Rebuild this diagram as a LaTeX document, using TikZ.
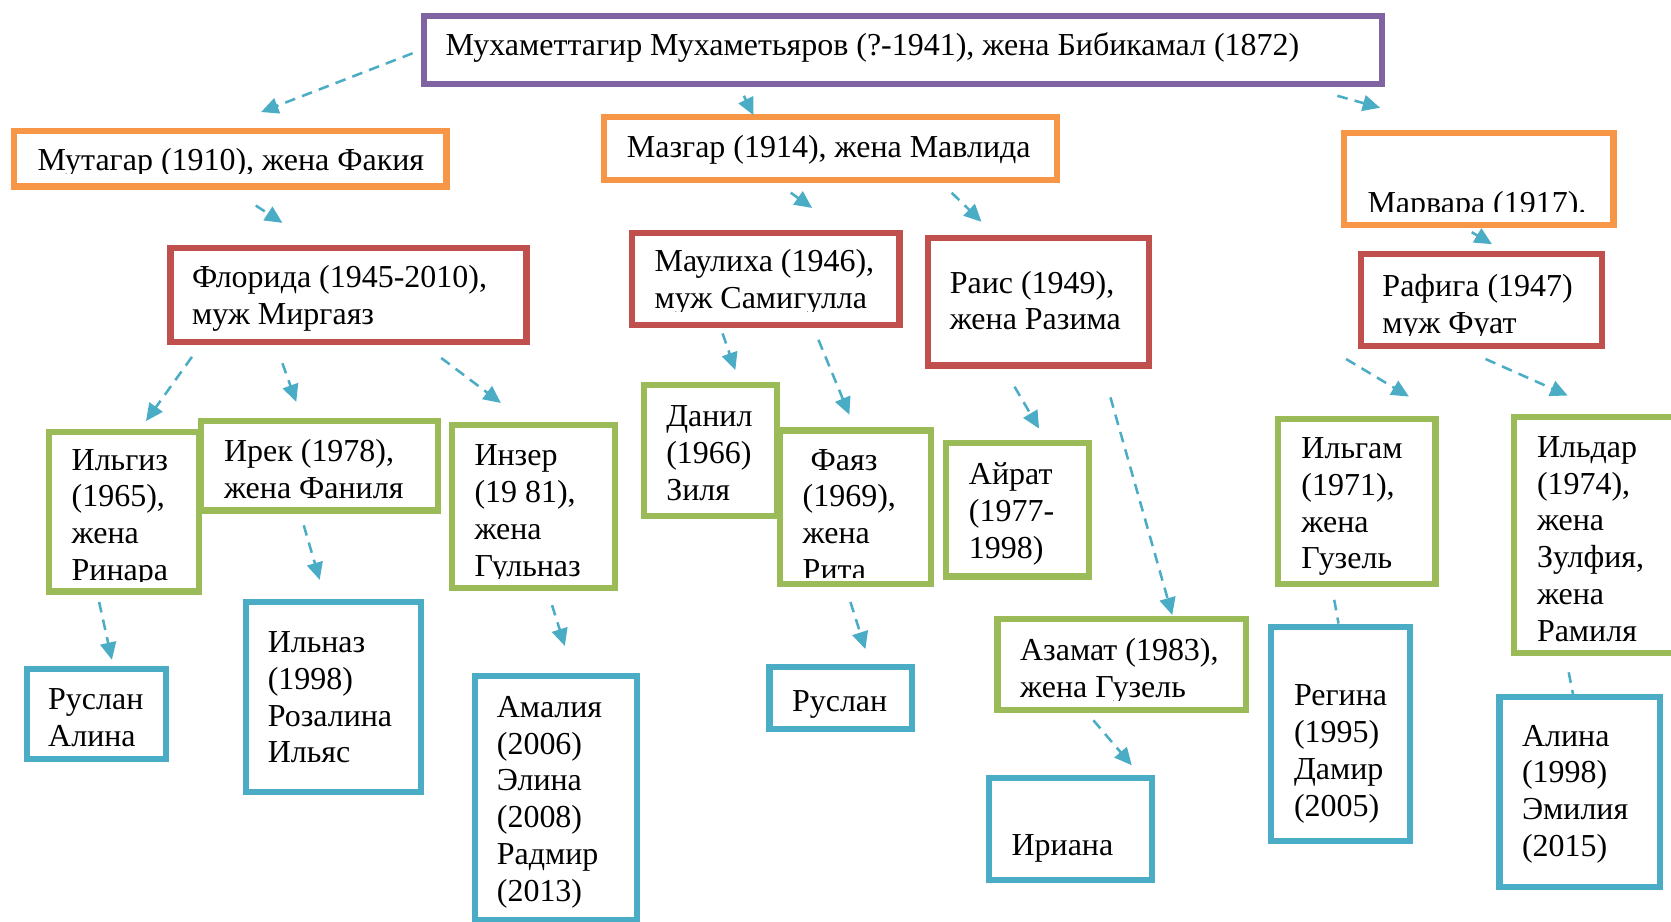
\documentclass[tikz,border=0pt]{standalone}
\usepackage{fontspec}
\setmainfont{Liberation Serif}
\usepackage{tikz}
\usetikzlibrary{arrows.meta,calc}

\definecolor{rootline}{RGB}{128,100,162}
\definecolor{sonline}{RGB}{247,150,70}
\definecolor{grandline}{RGB}{192,80,77}
\definecolor{greatline}{RGB}{155,187,89}
\definecolor{youngline}{RGB}{75,172,198}

\begin{document}
\begin{tikzpicture}[x=0.8pt,y=0.8pt,yscale=-1,xscale=1,
  box/.style={draw, line width=4.6pt, fill=white, inner sep=0pt},
  dims/.style 2 args={minimum width=#1*0.8pt, minimum height=#2*0.8pt},
  txt/.style={anchor=base west, inner sep=0pt, align=left, font=\fontsize{24}{27.7}\selectfont},
  link/.style={draw=youngline, line width=1.9pt, dash pattern=on 8pt off 5.5pt},
  arr/.style={link, -{Triangle[length=13pt,width=12pt]}}]
\useasboundingbox (0,0) rectangle (1568,865);
\clip (0,0) rectangle (1568,865);

%Shape: Rectangle
\node[box, draw=rootline, dims={899}{64}] (root) at (847.5,47) {};
%Shape: Rectangle
\node[box, draw=sonline, dims={406}{52}] (mutagar) at (216,149) {};
\node[box, draw=sonline, dims={425}{59}] (mazgar) at (779.5,139.5) {};
\node[box, draw=sonline, dims={253}{86}] (marvara) at (1387.5,168) {};
%Shape: Rectangle
\node[box, draw=grandline, dims={334}{88}] (florida) at (327,277) {};
\node[box, draw=grandline, dims={251}{86}] (maulikha) at (718.5,262) {};
\node[box, draw=grandline, dims={207}{120}] (rais) at (974.5,283) {};
\node[box, draw=grandline, dims={226}{86.5}] (rafiga) at (1390,281.75) {};
%Shape: Rectangle
\node[box, draw=greatline, dims={141}{150}] (ilgiz) at (116.5,480) {};
\node[box, draw=greatline, dims={222}{84}] (irek) at (300,437) {};
\node[box, draw=greatline, dims={153}{153}] (inzer) at (500.5,475.5) {};
\node[box, draw=greatline, dims={125}{123}] (danil) at (666.5,422.5) {};
\node[box, draw=greatline, dims={142}{144}] (fayaz) at (803,476) {};
\node[box, draw=greatline, dims={134}{125}] (airat) at (955,478.5) {};
\node[box, draw=greatline, dims={233}{85}] (azamat) at (1052.5,623.5) {};
\node[box, draw=greatline, dims={148}{155}] (ilgam) at (1273,470.5) {};
\node[box, draw=greatline, dims={159}{222}] (ildar) at (1500.5,502) {};
%Shape: Rectangle
\node[box, draw=youngline, dims={131}{84}] (ruslan) at (90.5,670) {};
\node[box, draw=youngline, dims={164}{178}] (ilnaz) at (313,654) {};
\node[box, draw=youngline, dims={152}{229}] (amalia) at (522,748.5) {};
\node[box, draw=youngline, dims={134}{58}] (ruslanb) at (789,655) {};
\node[box, draw=youngline, dims={153}{96}] (iriana) at (1004.5,778) {};
\node[box, draw=youngline, dims={130}{201}] (regina) at (1258,688.5) {};
\node[box, draw=youngline, dims={151}{178}] (alina) at (1482.5,743) {};

% Text Node
\node[txt] (rootT) at (418,52) {Мухаметтагир Мухаметьяров (?-1941), жена Бибикамал (1872)};
% Text Node
\begin{scope}
\clip (10,123) rectangle (422,163);
\node[txt] (mutagarT) at (35,160) {Мутагар (1910), жена Факия};
\end{scope}
\node[txt] (mazgarT) at (588,148) {Мазгар (1914), жена Мавлида};
\begin{scope}
\clip (1261,125) rectangle (1514,198.5);
\node[txt] (marvaraT) at (1283,200) {Марвара (1917).};
\end{scope}
% Text Node
\node[txt] (floridaT) at (180,304.6) {Флорида (1945-2010),\\муж Миргаяз};
\begin{scope}
\clip (593,219) rectangle (844,292);
\node[txt] (maulikhaT) at (614,289.6) {Маулиха (1946),\\муж Самигулла};
\end{scope}
\node[txt] (raisT) at (891,309.6) {Раис (1949),\\жена Разима};
\begin{scope}
\clip (1277,241) rectangle (1503,315);
\node[txt] (rafigaT) at (1297,312.6) {Рафига (1947)\\муж Фуат};
\end{scope}
% Text Node
\begin{scope}
\clip (46,405) rectangle (187,545.5);
\node[txt] (ilgizT) at (67,544.9) {Ильгиз\\(1965),\\жена\\Ринара};
\end{scope}
\node[txt] (irekT) at (210,467.6) {Ирек (1978),\\жена Фаниля};
\begin{scope}
\clip (424,399) rectangle (577,543);
\node[txt] (inzerT) at (445,540.9) {Инзер\\(19 81),\\жена\\Гульназ};
\end{scope}
\node[txt] (danilT) at (625,469.3) {Данил\\(1966)\\Зиля};
\begin{scope}
\clip (732,404) rectangle (874,541.5);
\node[txt] (fayazT) at (753,544.9) {~Фаяз\\(1969),\\жена\\Рита};
\end{scope}
\node[txt] (airatT) at (909,524.3) {Айрат\\(1977-\\1998)};
\begin{scope}
\clip (936,581) rectangle (1169,657);
\node[txt] (azamatT) at (957,654.6) {Азамат (1983),\\жена Гузель};
\end{scope}
\node[txt] (ilgamT) at (1221,533.9) {Ильгам\\(1971),\\жена\\Гузель};
\node[txt] (ildarT) at (1442,602.1) {Ильдар\\(1974),\\жена\\Зулфия,\\жена\\Рамиля};
% Text Node
\node[txt] (ruslanT) at (45,700.6) {Руслан\\Алина};
\node[txt] (ilnazT) at (251,715.9) {Ильназ\\(1998)\\Розалина\\Ильяс};
\node[txt] (amaliaT) at (466,846.1) {Амалия\\(2006)\\Элина\\(2008)\\Радмир\\(2013)};
\node[txt] (ruslanbT) at (743,668) {Руслан};
\node[txt] (irianaT) at (949,803) {Ириана};
\node[txt] (reginaT) at (1214,765.9) {Регина\\(1995)\\Дамир\\(2005)};
\node[txt] (alinaT) at (1428,803.9) {Алина\\(1998)\\Эмилия\\(2015)};

%Straight Lines
\draw[arr] ($(root.west)+(-8,3)$) -- ($(mutagar.north)+(29,-15)$);
\draw[arr] ($(root.south)+(-149.5,8)$) -- ($(mazgar.north)+(-72.5,1)$);
\draw[arr] ($(root.south east)+(-45,8)$) -- ($(marvara.north)+(-92.5,-21)$);
%Straight Lines
\draw[arr] ($(mutagar.south)+(24,15)$) -- ($(florida.north)+(-62,-21)$);
\draw[arr] ($(mazgar.south)+(-37.5,9)$) -- ($(maulikha.north)+(43.5,-21)$);
\draw[arr] ($(mazgar.south)+(113.5,9)$) -- ($(rais.north)+(-53.5,-12)$);
\draw[arr] ($(marvara.south)+(-6.5,4)$) -- ($(rafiga.north)+(10,-6.5)$);
%Straight Lines
\draw[arr] ($(florida.south west)+(23,11)$) -- ($(ilgiz.north)+(20.5,-7)$);
\draw[arr] ($(florida.south)+(-62,17)$) -- ($(irek.north)+(-22,-15)$);
\draw[arr] ($(florida.south)+(87,12)$) -- ($(inzer.north)+(-30.5,-18)$);
\draw[arr] ($(maulikha.south)+(-40.5,5)$) -- ($(danil.north)+(23.5,-11)$);
\draw[arr] ($(maulikha.south)+(49.5,11)$) -- ($(fayaz.north)+(-6,-12)$);
\draw[arr] ($(rais.south)+(-22.5,17)$) -- ($(airat.north)+(20,-11)$);
\draw[arr] ($(rais.south)+(67.5,27)$) -- ($(azamat.north)+(47.5,-1)$);
\draw[arr] ($(rafiga.south west)+(-11,9)$) -- ($(ilgam.north)+(49,-18)$);
\draw[arr] ($(rafiga.south)+(4,9)$) -- ($(ildar.north)+(-29.5,-17)$);
%Straight Lines
\draw[arr] ($(ilgiz.south)+(-23.5,7)$) -- ($(ruslan.north)+(14.5,-6)$);
\draw[arr] ($(irek.south)+(-15,11)$) -- ($(ilnaz.north)+(-13,-18)$);
\draw[arr] ($(inzer.south)+(17.5,13)$) -- ($(amalia.north)+(8,-25)$);
\draw[arr] ($(fayaz.south)+(-5,14)$) -- ($(ruslanb.north)+(23,-14)$);
\draw[arr] ($(azamat.south)+(-26.5,7)$) -- ($(iriana.north)+(57.5,-9)$);
\draw[link] ($(ilgam.south)+(-21,12)$) -- ($(regina.north)+(-2,0)$);
\draw[link] ($(ildar.south)+(-28.5,15)$) -- ($(alina.north)+(-6.5,0)$);

\end{tikzpicture}
\end{document}
